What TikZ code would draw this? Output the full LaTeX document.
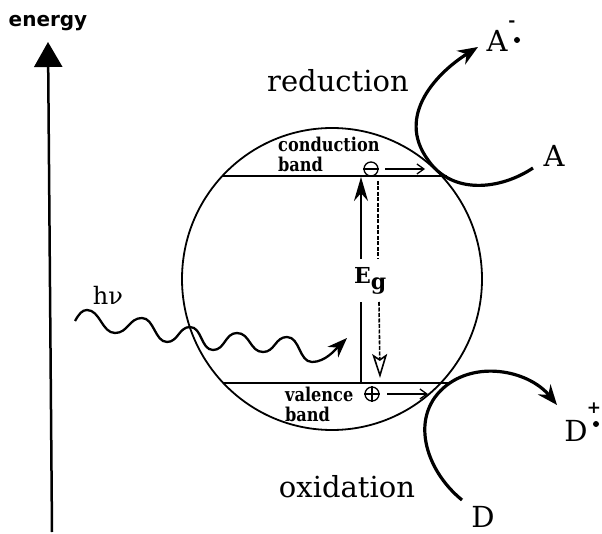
\documentclass[tikz,border=0pt]{standalone}
\usepackage{fontspec}
\setmainfont{DejaVu Serif}
\newfontfamily\lblsans{DejaVu Sans}
\newfontfamily\condserif[FakeStretch=0.85]{DejaVu Serif}
\usetikzlibrary{arrows.meta}
\begin{document}
\begin{tikzpicture}[x=1pt,y=-1pt,
  big/.style={font=\fontsize{29}{30}\selectfont, inner sep=0pt},
  small/.style={font=\condserif\bfseries\fontsize{19}{20}\selectfont, inner sep=0pt},
  supsym/.style={font=\bfseries\fontsize{17}{17}\selectfont, inner sep=0pt},
  thickcurve/.style={line width=3.2pt},
  bandline/.style={line width=1.8pt},
  chargecirc/.style={draw, circle, minimum size=14pt, inner sep=0pt, line width=1.3pt},
  smallarrow/.style={line width=1.3pt, -{Straight Barb[length=7pt,width=10pt]}},
  gapdash/.style={line width=1.6pt, dash pattern=on 4pt off 1.5pt},
]
\useasboundingbox (0,0) rectangle (602,534);

% energy axis
\node[font=\lblsans\bfseries\fontsize{20}{20}\selectfont, inner sep=0pt, anchor=base] (energy) at (48,27) {energy};
\coordinate (axbot) at (52,532);
\coordinate (axtop) at (48,42);
\draw[line width=2.5pt, -{Triangle[length=25pt,width=28pt]}] (axbot) -- (axtop);

% particle
\draw[line width=1.8pt] (332,279) ellipse [x radius=150pt, y radius=151pt];

% bands
\coordinate (cbL) at (222,176);
\coordinate (cbR) at (447,176);
\coordinate (vbL) at (223,383);
\coordinate (vbR) at (450,383);
\draw[bandline] (cbL) -- (cbR);
\draw[bandline] (vbL) -- (vbR);

\node[small, anchor=base west] (cond) at (278,152) {conduction};
\node[small, anchor=base west] (cband) at (278,172) {band};
\node[small, anchor=base west] (val) at (285,401) {valence};
\node[small, anchor=base west] (vband) at (285,421) {band};

% charges
\node[chargecirc] (ec) at (371,169) {};
\draw[line width=1.3pt] (ec.west) -- (ec.east);
\node[chargecirc] (hc) at (372,394) {};
\draw[line width=1.3pt] (hc.west) -- (hc.east) (hc.north) -- (hc.south);
\coordinate (ecA) at (385,169);
\coordinate (ecB) at (425,169);
\coordinate (hcA) at (387,394);
\coordinate (hcB) at (428,394);
\draw[smallarrow] (ecA) -- (ecB);
\draw[smallarrow] (hcA) -- (hcB);

% band gap
\node[font=\bfseries\fontsize{22}{22}\selectfont, anchor=base west, inner sep=0pt] (Eg) at (354,284) {E\raisebox{-6pt}{g}};
\coordinate (up0) at (361,383);
\coordinate (up1) at (361,302);
\coordinate (up2) at (361,259);
\coordinate (up3) at (361,177);
\draw[line width=2pt] (up0) -- (up1);
\draw[line width=2pt, -{Stealth[length=24pt,width=14pt]}] (up2) -- (up3);
\coordinate (dn0) at (378,181);
\coordinate (dn1) at (378,259);
\coordinate (dn2) at (379,302);
\coordinate (dn3) at (380,378);
\draw[gapdash] (dn0) -- (dn1);
\draw[gapdash, -{Stealth[open,length=24pt,width=15pt,inset=5pt]}] (dn2) -- (dn3);

% photon
\node[font=\fontsize{24}{24}\selectfont, anchor=base, inner sep=0pt] (hnu) at (108,305) {hν};
\coordinate (w0) at (75,321);
\coordinate (wtip) at (347,338);
\draw[line width=2.3pt, -{Stealth[length=20pt,width=15pt]}] (w0)
  .. controls (79,314) and (82,310) .. (87,310)
  .. controls (100,310) and (102,333) .. (115,333)
  .. controls (128,333) and (129,318) .. (142,318)
  .. controls (154,318) and (155,342) .. (167,342)
  .. controls (178,342) and (179,327) .. (190,327)
  .. controls (202,327) and (201,350) .. (213,350)
  .. controls (225,350) and (225,333) .. (237,333)
  .. controls (250,333) and (250,352) .. (263,352)
  .. controls (275,352) and (275,337) .. (287,337)
  .. controls (300,337) and (299,362) .. (312,362)
  .. controls (325,362) and (335,350) .. (wtip);

% reduction
\node[big, anchor=base] (red) at (338,92) {reduction};
\node[big, anchor=base] (A) at (554,167) {A};
\node[big, anchor=base] (Am) at (497,52) {A};
\node[supsym] (Aminus) at (512,24) {-};
\fill (517,40) circle (3pt);
\coordinate (rs) at (533,168);
\coordinate (rm) at (428,160);
\coordinate (re) at (478,47);
\draw[thickcurve, -{Stealth[length=20pt,width=16pt]}] (rs)
  .. controls (500,190) and (452,195) .. (rm)
  .. controls (395,115) and (438,72) .. (re);

% oxidation
\node[big, anchor=base] (oxi) at (347,497) {oxidation};
\node[big, anchor=base] (D) at (483,527) {D};
\node[big, anchor=base] (Dp) at (576,441) {D};
\node[supsym] (Dplus) at (594,408) {+};
\fill (596,424) circle (3pt);
\coordinate (os) at (462,500);
\coordinate (om) at (447,385);
\coordinate (oe) at (557,405);
\draw[thickcurve, -{Stealth[length=20pt,width=16pt]}] (os)
  .. controls (425,470) and (408,415) .. (om)
  .. controls (480,360) and (530,372) .. (oe);
\end{tikzpicture}
\end{document}
